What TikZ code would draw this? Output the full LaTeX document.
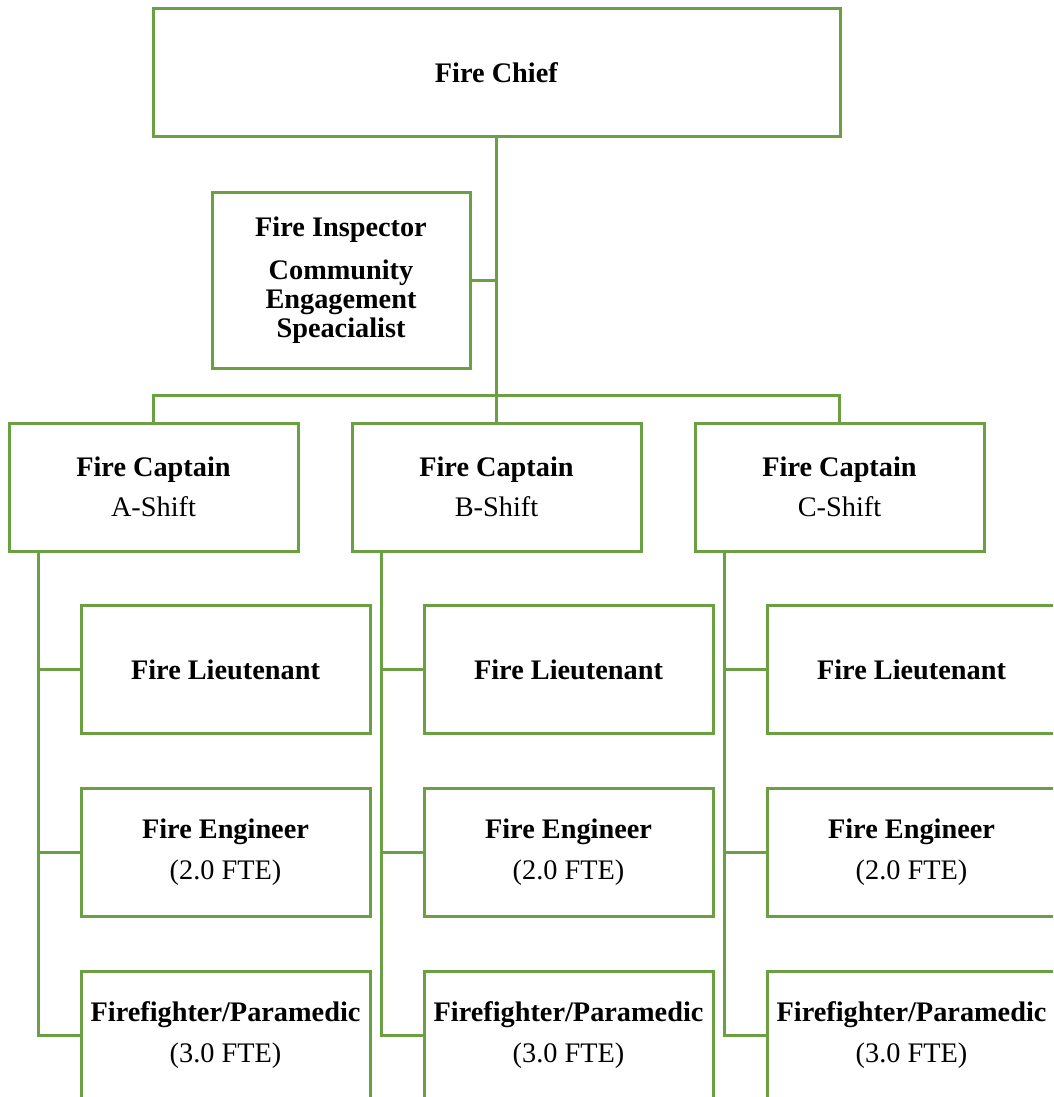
\documentclass[tikz,border=0pt]{standalone}
\usepackage{fontspec}
\setmainfont{Liberation Serif}
\definecolor{grn}{RGB}{106,160,66}
\begin{document}
\begin{tikzpicture}[x=1pt,y=-1pt,
  box/.style={draw=grn, line width=3pt, inner sep=0pt, outer sep=0pt, align=center,
    minimum width=289pt, minimum height=128pt, font=\fontsize{28.3}{40.5}\selectfont},
  link/.style={draw=grn, line width=3pt}]
\useasboundingbox (0,0) rectangle (1053,1097);
\clip (0,0) rectangle (1053,1097);

\node[box, minimum width=687pt] (chief) at (496.5,72.5) {\textbf{Fire Chief}};
\node[box, minimum width=258pt, minimum height=176pt, font=\fontsize{28.3}{28.7}\selectfont\bfseries] (insp) at (341,280)
  {Fire Inspector\\[15pt]Community\\Engagement\\Speacialist};

\node[box] (capA) at (153.5,487) {\textbf{Fire Captain}\\A-Shift};
\node[box] (capB) at (496.5,487) {\textbf{Fire Captain}\\B-Shift};
\node[box] (capC) at (839.5,487) {\textbf{Fire Captain}\\C-Shift};

\foreach \s/\x in {A/225.5, B/568.5, C/911.5}{
  \node[box] (lt\s) at (\x,669.5) {\textbf{Fire Lieutenant}};
  \node[box] (en\s) at (\x,852) {\textbf{Fire Engineer}\\(2.0 FTE)};
  \node[box] (ff\s) at (\x,1035) {\textbf{Firefighter/Paramedic}\\(3.0 FTE)};
}

\coordinate (bar) at (496.5,395);
\draw[link] (chief.south) -- (bar);
\draw[link] (insp.east) -- (insp.east -| chief.south);
\draw[link] (capA.north) -- (capA.north |- bar) -- (capC.north |- bar) -- (capC.north);
\draw[link] (bar) -- (capB.north);

\foreach \s in {A,B,C}{
  \coordinate (v\s) at ([xshift=29pt]cap\s.south west);
  \draw[link] (v\s) |- (ff\s.west);
  \draw[link] (v\s) |- (lt\s.west);
  \draw[link] (v\s) |- (en\s.west);
}
\end{tikzpicture}
\end{document}
